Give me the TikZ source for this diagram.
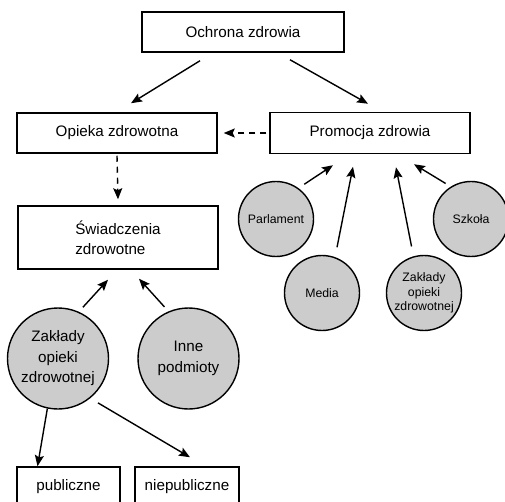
\documentclass[tikz,border=0pt]{standalone}
\usepackage{fontspec}
\setmainfont{Liberation Sans}
\usetikzlibrary{arrows.meta}

\begin{document}
\begin{tikzpicture}[x=1pt,y=-1pt,
        box/.style={draw,line width=1.5pt,inner sep=0pt,font=\fontsize{15.2}{20}\selectfont},
        blob/.style={circle,draw,line width=1.4pt,fill=black!20,inner sep=0pt,align=center},
        bigblob/.style={blob,minimum size=101pt,font=\fontsize{15.2}{20.5}\selectfont},
        smallblob/.style={blob,minimum size=75pt,font=\fontsize{12.3}{14.5}\selectfont},
        arr/.style={-{Stealth[length=11pt,width=9pt,inset=2pt]},line width=1.4pt},
        darr/.style={arr,dash pattern=on 6pt off 5pt}]
        % page frame of the picture
        \useasboundingbox (0,0) rectangle (505,502);

        % boxes
        \node[box,minimum width=202pt,minimum height=40pt] (ochrona) at (243,32) {Ochrona zdrowia};
        \node[box,minimum width=200pt,minimum height=40pt] (opieka) at (117,133) {Opieka zdrowotna};
        \node[box,minimum width=200pt,minimum height=41pt] (promocja) at (370,133) {Promocja zdrowia};
        \node[box,minimum width=200pt,minimum height=63pt,align=left] (swiadczenia) at (118,237.5)
            {Świadczenia\\zdrowotne};
        \node[box,minimum width=103pt,minimum height=40pt] (publiczne) at (68.5,487) {publiczne};
        \node[box,minimum width=104pt,minimum height=40pt] (niepubliczne) at (187,487) {niepubliczne};

        % circles round the promotion box
        \node[smallblob] (parlament) at (276,219) {Parlament};
        \node[smallblob] (media) at (322,293) {Media};
        \node[smallblob] (zakladyR) at (424,293) {Zakłady\\opieki\\zdrowotnej};
        \node[smallblob] (szkola) at (471,219) {Szkoła};

        % circles below the services box
        \node[bigblob] (zakladyL) at (58,358.5) {Zakłady\\opieki\\zdrowotnej};
        \node[bigblob] (inne) at (188.5,358.5) {Inne\\podmioty};

        % arrows from the top box
        \draw[arr] ([xshift=-43pt,yshift=-8pt]ochrona.south) -- ([xshift=14pt,yshift=9pt]opieka.north);
        \draw[arr] ([xshift=47pt,yshift=-7pt]ochrona.south) -- ([xshift=-2pt,yshift=8pt]promocja.north);

        % dashed arrows
        \draw[darr] ([xshift=-3pt]promocja.west) -- ([xshift=6pt]opieka.east);
        \draw[darr] ([yshift=-2pt]opieka.south) -- ([yshift=6pt]swiadczenia.north);

        % arrows into the promotion box
        \draw[arr,shorten <=7pt] (parlament.54) -- ([xshift=-37pt,yshift=-11pt]promocja.south);
        \draw[arr,shorten <=10pt] (media.70) -- ([xshift=-17pt,yshift=-12.5pt]promocja.south);
        \draw[arr,shorten <=10pt] (zakladyR.106) -- ([xshift=26pt,yshift=-13pt]promocja.south);
        \draw[arr,shorten <=6pt] (szkola.122) -- ([xshift=44pt,yshift=-10pt]promocja.south);

        % arrows into the services box
        \draw[arr,shorten <=6pt] (zakladyL.66) -- ([xshift=-10pt,yshift=-10pt]swiadczenia.south);
        \draw[arr,shorten <=6pt] (inne.113) -- ([xshift=21pt,yshift=-9pt]swiadczenia.south);

        % arrows to the two kinds of units
        \draw[arr] (zakladyL.258) -- ([xshift=-31pt]publiczne.north);
        \draw[arr,shorten <=9pt] (zakladyL.-51) -- ([xshift=3pt,yshift=9pt]niepubliczne.north);
    \end{tikzpicture}
\end{document}
